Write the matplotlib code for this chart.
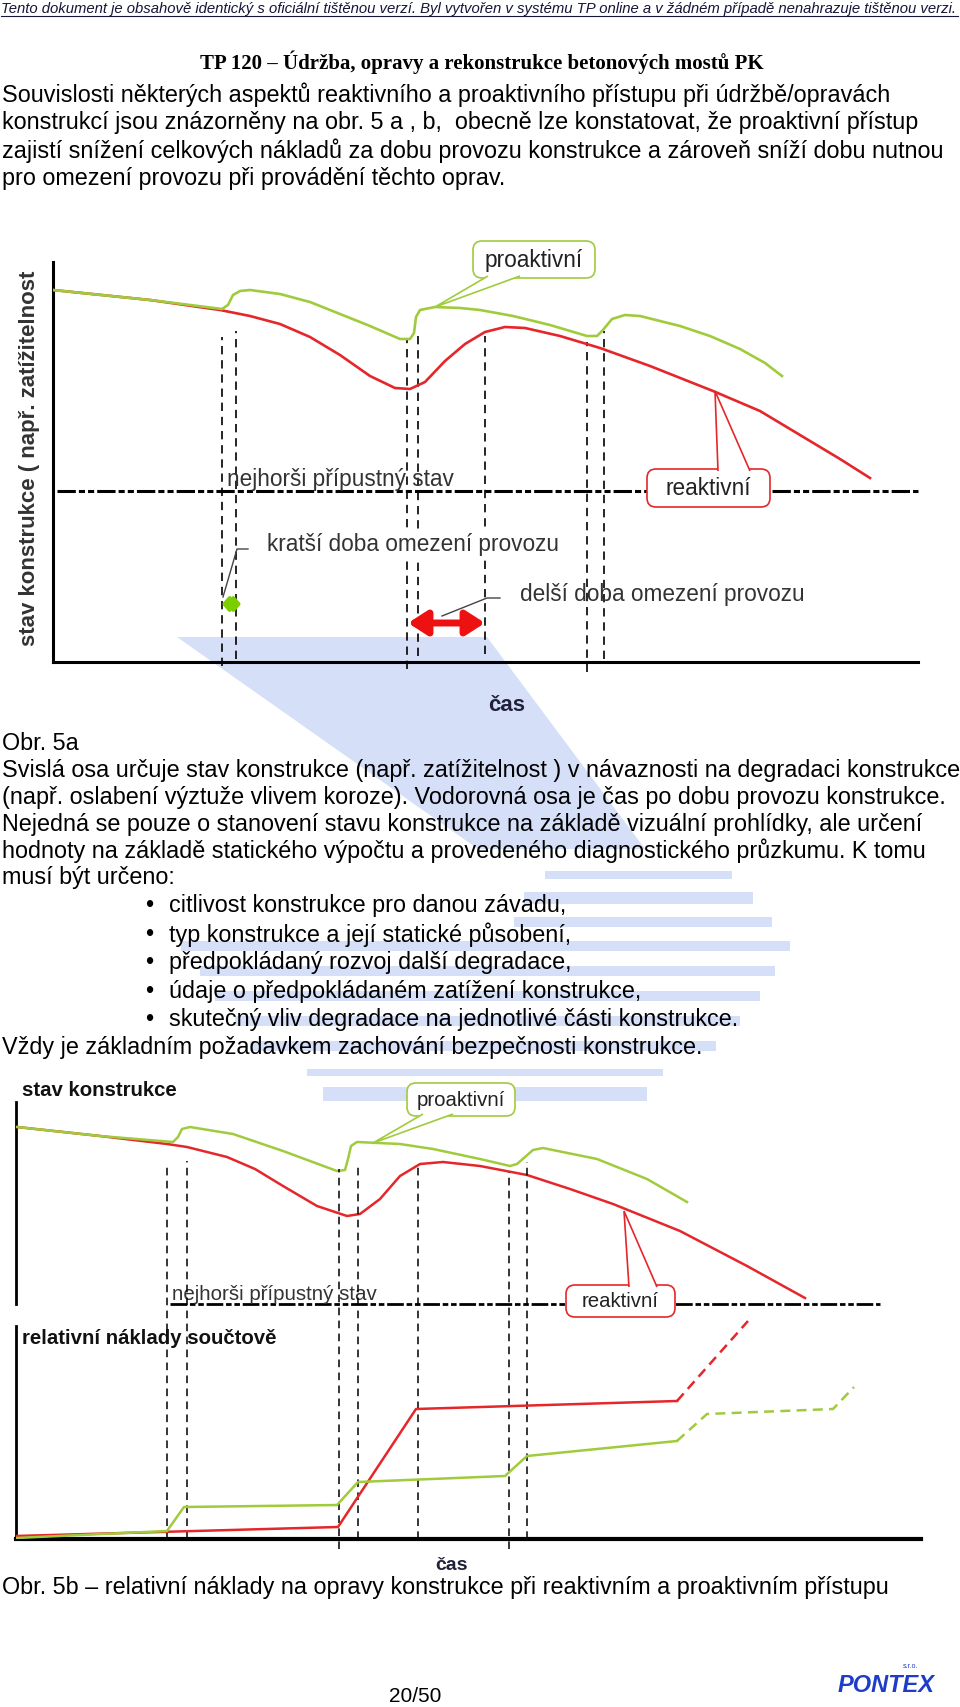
import matplotlib
matplotlib.use("Agg")
import matplotlib.pyplot as plt
from matplotlib.patches import FancyBboxPatch, Polygon, FancyArrowPatch, Rectangle

plt.rcParams['font.family'] = ['Liberation Sans', 'DejaVu Sans']

# --- 1. DATA (čas / stav, v jednotkách schématu) ---
# Obr. 5a – stav konstrukce
t_reakt_a = [0, 9.7, 16.7, 19.7, 22.7, 25.7, 28.7, 31.7, 34.2, 35.7, 37.2, 39.2, 41.2,
             43.2, 45.2, 47.2, 50.7, 54.7, 59.7, 66.0, 70.7, 74.7, 78.7, 81.7]
s_reakt_a = [37.2, 36.2, 35.2, 34.6, 33.8, 32.5, 30.7, 28.6, 27.4, 27.3, 28.0, 30.1, 31.8,
             33.0, 33.5, 33.4, 32.6, 31.4, 29.6, 27.1, 25.1, 22.7, 20.3, 18.4]
t_proakt_a = [0, 9.7, 16.9, 17.5, 18.0, 18.7, 19.7, 22.7, 25.7, 28.7, 31.7, 34.7, 35.7,
              36.1, 36.3, 36.7, 38.2, 40.7, 42.7, 46.0, 49.7, 53.4, 54.4, 55.0, 55.9, 57.2,
              58.7, 62.7, 65.7, 68.7, 71.2, 72.9]
s_proakt_a = [37.2, 36.2, 35.3, 35.7, 36.7, 37.1, 37.2, 36.8, 36.0, 34.8, 33.6, 32.3, 32.3,
              32.9, 34.5, 35.2, 35.5, 35.4, 35.2, 34.6, 33.7, 32.6, 32.6, 33.2, 34.3, 34.7,
              34.6, 33.6, 32.6, 31.3, 29.9, 28.6]
oprava_t_a = [16.9, 18.3, 35.4, 36.5, 43.2, 53.4, 55.1]
oprava_od_a = [-0.4, 0.3, -0.7, 0.6, 0.8, -1.0, 0.3]
oprava_do_a = [32.5, 33.1, 32.3, 32.8, 32.6, 32.0, 33.1]
nejhorsi_a = 17.1
kratsi_a = (16.9, 18.8)
delsi_a = (35.5, 43.2)

# Obr. 5b – stav konstrukce
t_reakt_b = [0.1, 8.4, 15.1, 17.1, 21.1, 23.9, 26.7, 30.1, 33.1, 34.4, 36.4, 38.4, 40.4,
             42.7, 46.4, 51.1, 55.4, 59.7, 66.4, 73.1, 78.9]
s_reakt_b = [17.7, 16.8, 16.0, 15.7, 14.7, 13.5, 11.8, 9.8, 8.8, 9.0, 10.5, 12.8, 14.0,
             14.2, 13.8, 12.9, 11.5, 10.0, 7.3, 3.8, 0.6]
t_proakt_b = [0.1, 8.4, 15.7, 16.2, 16.6, 17.4, 21.7, 26.7, 32.1, 32.9, 33.2, 33.5, 34.1,
              38.4, 41.7, 46.4, 49.4, 50.1, 51.7, 52.7, 58.1, 63.1, 67.1]
s_proakt_b = [17.7, 16.8, 16.2, 16.7, 17.5, 17.7, 17.0, 15.3, 13.3, 13.4, 14.5, 15.8, 16.2,
              16.0, 15.5, 14.5, 13.8, 14.0, 15.4, 15.6, 14.5, 12.5, 10.2]

# Obr. 5b – relativní náklady součtově
t_naklady_r = [0, 32.2, 40.0, 66.1]
c_naklady_r = [0.3, 1.2, 13.0, 13.8]
t_naklady_r_dal = [66.1, 73.2]
c_naklady_r_dal = [13.8, 21.8]
t_naklady_p = [0, 15.1, 16.8, 32.1, 34.2, 48.9, 51.1, 66.1]
c_naklady_p = [0.1, 0.8, 3.2, 3.4, 5.7, 6.3, 8.3, 9.8]
t_naklady_p_dal = [66.1, 69.1, 81.7, 83.8]
c_naklady_p_dal = [9.8, 12.5, 13.0, 15.2]
oprava_t_b = [15.1, 17.1, 32.3, 34.2, 40.2, 49.3, 51.1]
oprava_od_b = [0, 0, -1.0, 0, 0, -1.0, 0]
oprava_do_b = [37.2, 37.8, 37.0, 37.3, 37.3, 36.7, 37.7]

# --- 2. TEXTY ---
HLAVICKA = ("Tento dokument je obsahově identický s oficiální tištěnou verzí. "
            "Byl vytvořen v systému TP online a v žádném případě nenahrazuje tištěnou verzi.")
NADPIS = "TP 120 – Údržba, opravy a rekonstrukce betonových mostů PK"
odstavec1 = [
    "Souvislosti některých aspektů reaktivního a proaktivního přístupu při údržbě/opravách",
    "konstrukcí jsou znázorněny na obr. 5 a , b,  obecně lze konstatovat, že proaktivní přístup",
    "zajistí snížení celkových nákladů za dobu provozu konstrukce a zároveň sníží dobu nutnou",
    "pro omezení provozu při provádění těchto oprav.",
]
odstavec2 = [
    "Obr. 5a",
    "Svislá osa určuje stav konstrukce (např. zatížitelnost ) v návaznosti na degradaci konstrukce",
    "(např. oslabení výztuže vlivem koroze). Vodorovná osa je čas po dobu provozu konstrukce.",
    "Nejedná se pouze o stanovení stavu konstrukce na základě vizuální prohlídky, ale určení",
    "hodnoty na základě statického výpočtu a provedeného diagnostického průzkumu. K tomu",
    "musí být určeno:",
]
odrazky = [
    "citlivost konstrukce pro danou závadu,",
    "typ konstrukce a její statické působení,",
    "předpokládaný rozvoj další degradace,",
    "údaje o předpokládaném zatížení konstrukce,",
    "skutečný vliv degradace na jednotlivé části konstrukce.",
]
ZAVER = "Vždy je základním požadavkem zachování bezpečnosti konstrukce."
POPIS_5B = "Obr. 5b – relativní náklady na opravy konstrukce při reaktivním a proaktivním přístupu"

CERVENA = '#e5262a'
ZELENA = '#a0cb3c'
VODOZNAK = '#d6dff8'
TEXT_GRAF = '#333333'
VEL_TEXT = 16.8

W, H = 960, 1708
fig = plt.figure(figsize=(W / 100, H / 100), dpi=100)


def px_axes(left, top, right, bottom):
    ax = fig.add_axes([left / W, 1 - bottom / H, (right - left) / W, (bottom - top) / H])
    ax.patch.set_alpha(0)
    ax.set_xticks([])
    ax.set_yticks([])
    for s in ax.spines.values():
        s.set_visible(False)
    return ax


def bublina(ax, x0, y0, x1, y1, zaklad, spicka, barva, popis, vel):
    ax.add_patch(FancyBboxPatch((x0, y0), x1 - x0, y1 - y0,
                                boxstyle='round,pad=0,rounding_size=0.9',
                                fc='white', ec=barva, lw=1.2, zorder=6, clip_on=False))
    ax.add_patch(Polygon([zaklad[0], spicka, zaklad[1]], closed=False, fc='white',
                         ec=barva, lw=1.2, zorder=7, clip_on=False))
    ax.text((x0 + x1) / 2, (y0 + y1) / 2, popis, ha='center', va='center',
            fontsize=vel, color='#222222', zorder=8)


def sipka(ax, x0, x1, y, barva, lw, ms, styl):
    ax.add_patch(FancyArrowPatch((x0, y), (x1, y), arrowstyle=styl, mutation_scale=ms,
                                 lw=lw, color=barva, shrinkA=0, shrinkB=0, zorder=5,
                                 clip_on=False))


# --- 3. STRÁNKA (pozadí, vodoznak, text) ---
bg = fig.add_axes([0, 0, 1, 1])
bg.set_xlim(0, W)
bg.set_ylim(H, 0)
bg.axis('off')

bg.add_patch(Polygon([(177, 638), (487, 638), (645, 850), (478, 850)], fc=VODOZNAK, ec='none'))
pruhy = [(872, 880, 545, 732), (893, 905, 524, 753), (918, 928, 514, 772),
         (942, 952, 181, 790), (967, 977, 200, 775), (992, 1002, 215, 760),
         (1017, 1027, 235, 740), (1042, 1052, 250, 716), (1070, 1077, 307, 663),
         (1088, 1102, 323, 647)]
for y0, y1, x0, x1 in pruhy:
    bg.add_patch(Rectangle((x0, y0), x1 - x0, y1 - y0, fc=VODOZNAK, ec='none'))

bg.text(1, 9, HLAVICKA, style='italic', fontsize=10.7, va='center', color='#15153a')
bg.plot([1, 958], [16.5, 16.5], lw=0.8, color='#15153a')
bg.text(482, 62, NADPIS, family=['Liberation Serif', 'DejaVu Serif'], weight='bold',
        fontsize=15, ha='center', va='center')

for i, radek in enumerate(odstavec1):
    bg.text(2, 95 + 28 * i, radek, fontsize=VEL_TEXT, va='center')
for i, radek in enumerate(odstavec2):
    bg.text(2, 744 + 26.8 * i, radek, fontsize=VEL_TEXT, va='center')
for i, radek in enumerate(odrazky):
    bg.text(145, 906 + 28.4 * i, '•', fontsize=VEL_TEXT, va='center')
    bg.text(169, 906 + 28.4 * i, radek, fontsize=VEL_TEXT, va='center')
bg.text(2, 1048, ZAVER, fontsize=VEL_TEXT, va='center')
bg.text(2, 1588, POPIS_5B, fontsize=VEL_TEXT, va='center')

bg.text(30, 458, "stav konstrukce ( např. zatížitelnost", rotation=90, ha='center',
        va='center', weight='bold', fontsize=16, color=TEXT_GRAF)

bg.text(389, 1697, "20/50", fontsize=15, va='center')
bg.text(838, 1686, "PONTEX", weight='bold', style='italic', color='#1f3cc8',
        fontsize=17, va='center')
bg.text(903, 1667, "s.r.o.", fontsize=5, color='#1f3cc8', va='center')

# --- 4. OBR. 5a ---
ax1 = px_axes(53, 263, 918, 663)
ax1.set_xlim(0, 86.5)
ax1.set_ylim(0, 40)
for s in ['left', 'bottom']:
    ax1.spines[s].set_visible(True)
    ax1.spines[s].set_linewidth(2.2)

for t, y0, y1 in zip(oprava_t_a, oprava_od_a, oprava_do_a):
    ax1.plot([t, t], [y0, y1], color='black', lw=1.2, ls=(0, (5, 3.5)), zorder=2,
             clip_on=False)
ax1.plot([0.4, 86.5], [nejhorsi_a, nejhorsi_a], color='black', lw=2.2,
         ls=(0, (6, 1, 2, 1, 2, 1)), zorder=2, clip_on=False)
ax1.plot(t_reakt_a, s_reakt_a, color=CERVENA, lw=1.9, zorder=3)
ax1.plot(t_proakt_a, s_proakt_a, color=ZELENA, lw=1.9, zorder=3)

sipka(ax1, kratsi_a[0], kratsi_a[1], 5.8, '#7cce00', 3,
      12, '<|-|>,head_length=0.3,head_width=0.35')
sipka(ax1, delsi_a[0], delsi_a[1], 3.9, '#ee1111', 5,
      16, '<|-|>,head_length=0.7,head_width=0.45')
ax1.plot([19.5, 18.4, 17.0], [11.3, 11.3, 6.5], color='#444444', lw=1, zorder=4)
ax1.plot([44.7, 43.4, 38.9], [6.4, 6.4, 4.6], color='#444444', lw=1, zorder=4)

ax1.text(17.4, 17.65, "nejhorši přípustný stav", fontsize=16.3, color=TEXT_GRAF,
         va='baseline', zorder=4)
ax1.text(21.4, 11.8, "kratší doba omezení provozu", fontsize=16.3, color=TEXT_GRAF,
         va='center', zorder=4, bbox=dict(fc='white', ec='none', pad=2))
ax1.text(46.7, 6.8, "delší doba omezení provozu", fontsize=16.3, color=TEXT_GRAF,
         va='center', zorder=4)
ax1.text(45.4, -4.3, "čas", fontsize=16, weight='bold', color='#20203a',
         ha='center', va='center')

bublina(ax1, 42.0, 38.4, 54.2, 42.1, [(43.5, 38.6), (46.7, 38.6)], (38.2, 35.5),
        ZELENA, "proaktivní", 16.3)
bublina(ax1, 59.4, 15.5, 71.7, 19.3, [(66.5, 19.1), (69.7, 19.1)], (66.2, 27.1),
        CERVENA, "reaktivní", 16.3)

# --- 5. OBR. 5b – stav ---
ax2a = px_axes(16, 1103, 921, 1305)
ax2a.set_xlim(0, 90.5)
ax2a.set_ylim(0, 20.2)
ax2a.spines['left'].set_visible(True)
ax2a.spines['left'].set_linewidth(2)

ax2a.plot([15.4, 86.4], [0, 0], color='black', lw=2, ls=(0, (6, 1, 2, 1, 2, 1)),
          zorder=2, clip_on=False)
ax2a.plot(t_reakt_b, s_reakt_b, color=CERVENA, lw=1.8, zorder=3)
ax2a.plot(t_proakt_b, s_proakt_b, color=ZELENA, lw=1.8, zorder=3)
ax2a.text(0.6, 21.4, "stav konstrukce", fontsize=14.7, weight='bold', color='#111111',
          va='center')
ax2a.text(15.6, 0.5, "nejhorši přípustný stav", fontsize=14.8, color=TEXT_GRAF,
          va='baseline', zorder=4)
bublina(ax2a, 39.1, 18.8, 49.9, 22.1, [(40.7, 19.0), (43.7, 19.0)], (35.7, 16.1),
        ZELENA, "proaktivní", 14.7)
bublina(ax2a, 55.0, -1.3, 65.9, 1.9, [(61.3, 1.7), (64.1, 1.7)], (60.8, 9.3),
        CERVENA, "reaktivní", 14.7)

# --- 6. OBR. 5b – náklady ---
ax2b = px_axes(16, 1327, 921, 1540)
ax2b.set_xlim(0, 90.5)
ax2b.set_ylim(0, 21.3)
ax2b.spines['left'].set_visible(True)
ax2b.spines['left'].set_linewidth(2)
ax2b.spines['bottom'].set_visible(True)
ax2b.spines['bottom'].set_linewidth(3)

for t, y0, y1 in zip(oprava_t_b, oprava_od_b, oprava_do_b):
    ax2b.plot([t, t], [y0, y1], color='black', lw=1.1, ls=(0, (5, 3.5)), zorder=2,
              clip_on=False)
ax2b.plot(t_naklady_r, c_naklady_r, color=CERVENA, lw=1.8, zorder=3)
ax2b.plot(t_naklady_r_dal, c_naklady_r_dal, color=CERVENA, lw=1.8, ls=(0, (4, 2.5)),
          zorder=3, clip_on=False)
ax2b.plot(t_naklady_p, c_naklady_p, color=ZELENA, lw=1.8, zorder=3)
ax2b.plot(t_naklady_p_dal, c_naklady_p_dal, color=ZELENA, lw=1.8, ls=(0, (4, 2.5)),
          zorder=3)
ax2b.text(0.6, 20.2, "relativní náklady součtově", fontsize=14.7, weight='bold',
          color='#111111', va='center')
ax2b.text(43.6, -2.6, "čas", fontsize=14, weight='bold', color='#20203a',
          ha='center', va='center')

fig.savefig("out.png", dpi=100)
